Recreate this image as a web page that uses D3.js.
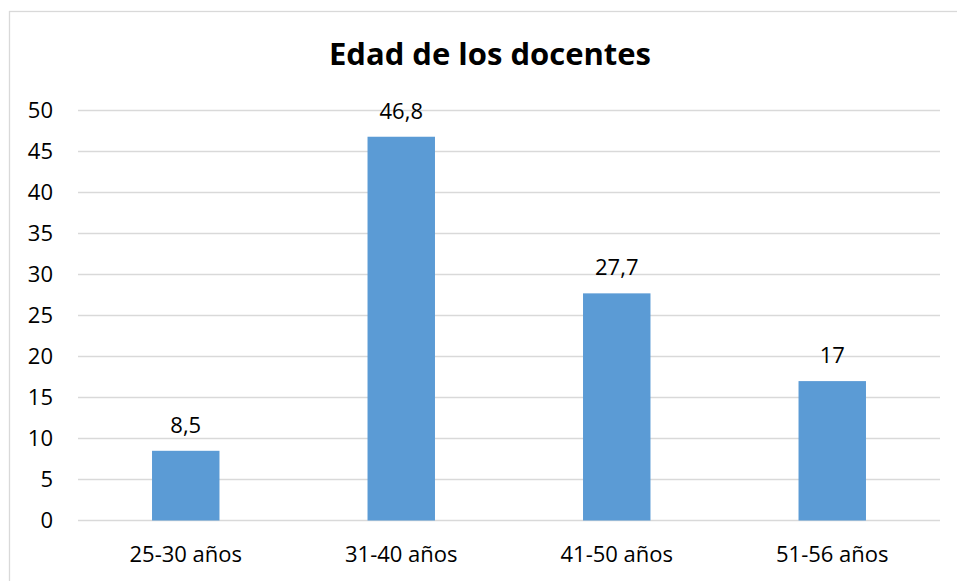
<!DOCTYPE html>
<html>
<head>
<meta charset="utf-8">
<script src="https://cdn.jsdelivr.net/npm/d3@7"></script>
<style>
  body { margin: 0; background: #fff; }
  svg text { font-family: "Open Sans", "Noto Sans", sans-serif; fill: #000; }
</style>
</head>
<body>
<div id="chart"></div>
<script>
// Data
var categories = ["25-30 años", "31-40 años", "41-50 años", "51-56 años"];
var values = [8.5, 46.8, 27.7, 17];
var valueLabels = ["8,5", "46,8", "27,7", "17"];
var yTicks = [0, 5, 10, 15, 20, 25, 30, 35, 40, 45, 50];

var width = 957, height = 581;
var margin = {top: 110.5, right: 17, bottom: 60.5, left: 78};
var innerW = width - margin.left - margin.right,
    innerH = height - margin.top - margin.bottom;

var svg = d3.select("#chart").append("svg")
    .attr("width", width)
    .attr("height", height);

// outer chart border
svg.append("rect")
    .attr("x", 9.5).attr("y", 11.5)
    .attr("width", 960).attr("height", 600)
    .attr("fill", "none")
    .attr("stroke", "#d9d9d9")
    .attr("stroke-width", 1.3);

svg.append("text")
    .attr("x", 490).attr("y", 65)
    .attr("text-anchor", "middle")
    .attr("font-weight", "bold")
    .attr("font-size", "31px")
    .text("Edad de los docentes");

var g = svg.append("g")
    .attr("transform", "translate(" + margin.left + "," + margin.top + ")");

var x = d3.scaleBand()
    .domain(categories)
    .range([0, innerW])
    .paddingInner(0.687)
    .paddingOuter(0.3435);

var y = d3.scaleLinear()
    .domain([0, 50])
    .range([innerH, 0]);

// gridlines
g.selectAll("line.grid")
    .data(yTicks)
    .enter().append("line")
    .attr("class", "grid")
    .attr("x1", 0).attr("x2", innerW)
    .attr("y1", function(d) { return y(d); })
    .attr("y2", function(d) { return y(d); })
    .attr("stroke", "#d9d9d9")
    .attr("stroke-width", 1.3);

// y axis labels
var yAxis = d3.axisLeft(y).tickValues(yTicks).tickSize(0).tickPadding(25);
g.append("g").call(yAxis)
    .call(function(s) { s.select(".domain").remove(); })
    .selectAll("text")
    .attr("font-size", "22px")
    .style("font-family", "'Open Sans', sans-serif");

// x axis labels
var xAxis = d3.axisBottom(x).tickSize(0).tickPadding(26);
g.append("g").attr("transform", "translate(0," + innerH + ")").call(xAxis)
    .call(function(s) { s.select(".domain").remove(); })
    .selectAll("text")
    .attr("font-size", "22px")
    .style("font-family", "'Open Sans', sans-serif");

// bars
g.selectAll("rect.bar")
    .data(values)
    .enter().append("rect")
    .attr("class", "bar")
    .attr("x", function(d, i) { return x(categories[i]); })
    .attr("width", x.bandwidth())
    .attr("y", function(d) { return y(d); })
    .attr("height", function(d) { return innerH - y(d); })
    .attr("fill", "#5b9bd5");

// value labels
g.selectAll("text.val")
    .data(values)
    .enter().append("text")
    .attr("class", "val")
    .attr("x", function(d, i) { return x(categories[i]) + x.bandwidth() / 2; })
    .attr("y", function(d) { return y(d) - 18; })
    .attr("text-anchor", "middle")
    .attr("font-size", "22px")
    .text(function(d, i) { return valueLabels[i]; });
</script>
</body>
</html>
